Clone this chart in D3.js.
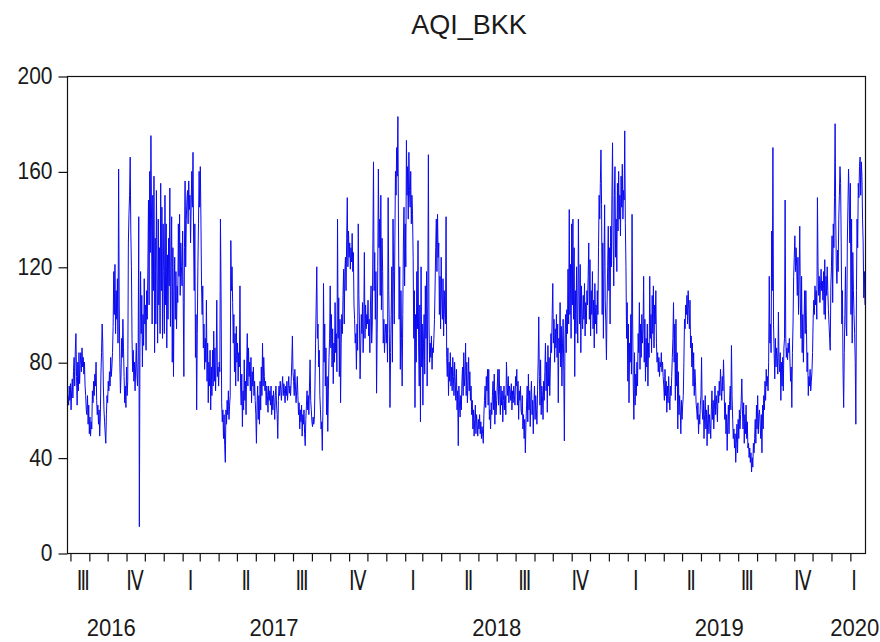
<!DOCTYPE html>
<html>
<head>
<meta charset="utf-8">
<script src="https://cdn.jsdelivr.net/npm/d3@7"></script>
<style>
  body { margin: 0; background: #ffffff; }
  svg { display: block; }
  text { font-family: "Liberation Sans", Arial, sans-serif; fill: #1a1a1a; }
</style>
</head>
<body>
<svg id="chart" width="880" height="642"></svg>
<script>
// Daily Bangkok AQI, first reading 28 Jul 2016
const startDate = "2016-07-28";
const seriesName = "AQI_BKK";

const aqi2016 = [
  66, 62, 70, 64, 71, 60, 68, 73, 65, 76,
  82, 70, 85, 92, 74, 62, 80, 68, 84, 71,
  79, 84, 76, 86, 78, 82, 75, 80, 70, 66,
  60, 58, 66, 54, 62, 50, 57, 49, 55, 52,
  68, 63, 72, 66, 75, 70, 80, 64, 58, 62,
  54, 60, 49, 57, 75, 84, 96, 88, 70, 60,
  55, 50, 46, 58, 66, 63, 72, 68, 76, 70,
  82, 74, 78, 84, 95, 118, 100, 121, 92, 110,
  98, 115, 88, 161, 104, 80, 67, 75, 90, 82,
  98, 86, 74, 63, 70, 61, 78, 66, 72, 130,
  142, 150, 166, 135, 120, 90, 76, 85, 72, 80,
  68, 78, 88, 75, 70, 82, 141, 11, 86, 118,
  92, 108, 78, 100, 87, 115, 96, 104, 85, 110,
  98, 120, 148, 104, 160, 126, 175, 140, 96, 150,
  110, 158, 84, 132, 96, 152, 118, 88, 140, 104,
  128, 92, 155, 110, 145, 90, 138
];

const aqi2017 = [
  118, 92, 150, 104, 138, 86, 125, 98, 132, 112,
  153, 95, 120, 141, 80, 128, 74, 110, 124, 98,
  118, 94, 112, 105, 138, 116, 142, 108, 130, 120,
  112, 135, 105, 74, 128, 156, 120, 140, 148, 152,
  138, 156, 144, 150, 130, 146, 160, 145, 168, 130,
  110, 138, 82, 100, 60, 92, 120, 138, 160, 145,
  162, 140, 112, 100, 112, 86, 96, 77, 90, 80,
  106, 72, 88, 63, 80, 70, 85, 60, 78, 66,
  85, 70, 93, 72, 86, 68, 80, 106, 74, 78,
  70, 80, 76, 140, 110, 63, 55, 60, 48, 58,
  45, 38, 60, 54, 64, 58, 68, 56, 62, 66,
  131, 110, 120, 105, 88, 100, 76, 92, 70, 95,
  80, 88, 72, 84, 78, 112, 70, 62, 75, 53,
  68, 60, 81, 64, 72, 58, 78, 92, 70, 86,
  74, 80, 68, 82, 63, 76, 70, 78, 66, 72,
  64, 58, 46, 62, 70, 56, 66, 54, 72, 60,
  78, 66, 88, 70, 82, 74, 68, 72, 62, 70,
  66, 59, 70, 64, 68, 62, 70, 58, 66, 60,
  68, 63, 56, 66, 70, 62, 58, 48, 64, 70,
  66, 72, 68, 64, 70, 74, 66, 71, 68, 63,
  70, 66, 72, 64, 69, 74, 67, 70, 66, 72,
  80, 91, 76, 72, 66, 77, 70, 63, 68, 74,
  66, 58, 63, 52, 60, 55, 62, 49, 58, 54,
  60, 50, 45, 56, 62, 68, 60, 66, 58, 70,
  81, 64, 60, 55, 53, 57, 54, 56, 70, 88,
  104, 120, 90, 96, 78, 85, 66, 60, 52, 55,
  43, 60, 113, 80, 96, 70, 86, 58, 74, 51,
  68, 82, 90, 112, 86, 100, 78, 94, 71, 88,
  80, 105, 84, 92, 76, 140, 90, 107, 74, 98,
  63, 88, 100, 92, 108, 119, 96, 118, 124, 110,
  132, 149, 120, 135, 124, 130, 119, 128, 122, 134,
  118, 126, 104, 98, 88, 92, 77, 96, 85, 138,
  108, 96, 73, 86, 100, 92, 105, 84, 96, 126,
  90, 104, 94, 100, 96, 106, 91, 98, 84, 104,
  112, 88, 96, 130, 164, 110, 126, 98, 118, 67,
  92, 120, 161, 128, 140, 108, 150, 102, 132, 118,
  88, 98, 84, 92, 96
];

const aqi2018 = [
  88, 96, 80, 149, 110, 92, 61, 84, 100, 120,
  80, 140, 118, 96, 130, 160, 150, 170, 158, 183,
  135, 98, 120, 77, 110, 90, 70, 100, 130, 145,
  112, 138, 120, 173, 150, 162, 140, 168, 152, 145,
  160, 138, 150, 142, 124, 90, 110, 61, 100, 80,
  118, 94, 131, 86, 70, 104, 55, 120, 78, 96,
  62, 88, 100, 75, 112, 90, 118, 70, 104, 167,
  96, 80, 88, 82, 91, 77, 86, 84, 90, 98,
  112, 128, 140, 118, 142, 124, 130, 100, 116, 94,
  124, 106, 98, 115, 91, 110, 100, 96, 141, 82,
  74, 86, 66, 80, 72, 84, 70, 78, 68, 82,
  74, 66, 80, 72, 64, 77, 60, 68, 45, 70,
  62, 57, 66, 60, 72, 78, 66, 84, 70, 74,
  88, 66, 80, 63, 72, 82, 68, 76, 64, 70,
  58, 64, 52, 60, 49, 56, 62, 50, 58, 54,
  49, 56, 52, 58, 50, 55, 48, 53, 50, 46,
  58, 64, 70, 61, 74, 68, 77, 62, 77, 56,
  60, 52, 63, 58, 66, 72, 60, 75, 54, 68,
  58, 64, 70, 77, 62, 77, 66, 58, 70, 62,
  68, 55, 64, 70, 60, 66, 58, 80, 71, 66,
  74, 63, 70, 68, 64, 71, 60, 68, 63, 70,
  66, 62, 74, 70, 77, 62, 72, 56, 68, 64,
  70, 60, 58, 66, 52, 58, 48, 56, 42, 54,
  62, 70, 55, 75, 60, 68, 53, 66, 72, 58,
  64, 50, 62, 70, 56, 66, 60, 54, 68, 80,
  99, 74, 62, 81, 58, 70, 66, 56, 72, 64,
  76, 88, 68, 80, 59, 87, 70, 82, 66, 78,
  92, 84, 100, 113, 88, 98, 80, 94, 86, 100,
  82, 96, 63, 90, 84, 105, 78, 95, 70, 88,
  98, 76, 47, 90, 100, 84, 102, 92, 119, 96,
  144, 100, 121, 90, 138, 104, 140, 98, 128, 74,
  110, 92, 120, 100, 88, 140, 110, 96, 121, 84,
  112, 100, 94, 108, 98, 113, 91, 105, 96, 110,
  104, 116, 130, 98, 123, 91, 110, 100, 118, 94,
  106, 86, 113, 96, 104, 92, 110, 100, 128, 150,
  140, 155, 169, 146, 100, 130, 90, 120, 146, 106,
  96, 81, 104, 120, 137
];

const aqi2019 = [
  110, 128, 96, 137, 120, 150, 172, 130, 112, 150,
  162, 124, 140, 118, 155, 135, 160, 140, 150, 133,
  158, 145, 163, 140, 152, 148, 177, 138, 120, 90,
  105, 72, 96, 63, 88, 80, 100, 75, 142, 96,
  70, 56, 84, 62, 75, 66, 80, 70, 92, 84,
  105, 77, 96, 82, 100, 88, 94, 116, 80, 98,
  72, 90, 78, 96, 70, 88, 82, 116, 90, 100,
  84, 108, 92, 112, 86, 104, 96, 110, 88, 80,
  84, 76, 82, 74, 80, 78, 84, 76, 80, 74,
  70, 64, 77, 66, 72, 59, 70, 63, 74, 66,
  60, 70, 66, 74, 82, 90, 105, 80, 96, 64,
  98, 70, 84, 52, 76, 58, 66, 60, 50, 64,
  56, 62, 66, 80, 98, 94, 104, 100, 108, 96,
  110, 102, 94, 106, 86, 91, 78, 88, 70, 84,
  66, 77, 72, 63, 60, 56, 63, 50, 58, 54,
  62, 66, 82, 60, 56, 64, 48, 58, 66, 52,
  60, 45, 56, 62, 50, 58, 54, 48, 60, 68,
  56, 64, 52, 60, 70, 58, 66, 62, 55, 68,
  63, 72, 66, 77, 70, 64, 74, 68, 81, 70,
  56, 63, 50, 58, 43, 55, 62, 50, 64, 70,
  60, 87, 66, 56, 48, 52, 44, 50, 38, 46,
  54, 42, 56, 48, 60, 52, 58, 64, 73, 60,
  52, 63, 46, 58, 50, 62, 48, 55, 44, 46,
  40, 44, 38, 42, 34, 40, 36, 46, 42, 48,
  56, 46, 62, 52, 66, 50, 58, 60, 54, 48,
  58, 42, 62, 52, 66, 60, 72, 64, 77, 70,
  74, 68, 80, 116, 88, 96, 84, 135, 110, 170,
  96, 84, 73, 90, 78, 86, 82, 75, 101, 80,
  76, 84, 64, 80, 70, 82, 68, 86, 90, 148,
  91, 82, 86, 81, 88, 84, 90, 80, 72, 78,
  61, 84, 96, 116, 124, 133, 118, 128, 120, 108,
  124, 100, 116, 137, 104, 90, 116, 84, 100, 80,
  96, 110, 92, 110, 94, 76, 84, 66, 74, 70,
  77, 68, 72, 76, 84, 98, 106, 100, 112, 104,
  110, 98, 149, 120, 108, 116, 105, 112, 119, 110,
  114, 106, 118, 100, 123, 98, 116, 108, 120, 110,
  102, 96, 90, 85, 112
];

const aqi2020 = [
  120, 133, 105, 138, 128, 149, 180, 140, 120, 113,
  127, 118, 140, 150, 162, 155, 130, 96, 110, 76,
  61, 84, 100, 120, 96, 91, 130, 145, 161, 150,
  130, 155, 100, 140, 88, 126, 110, 100, 92, 80,
  54, 110, 140, 128, 155, 149, 162, 166, 150, 164,
  158, 140, 130, 107, 118, 104
];

// Axis labelling
const yTickValues = [0, 40, 80, 120, 160, 200];
const quarterLabels = [
  ["2016-08-22", "Ⅲ"], ["2016-11-15", "Ⅳ"],
  ["2017-02-14", "Ⅰ"], ["2017-05-16", "Ⅱ"], ["2017-08-16", "Ⅲ"], ["2017-11-15", "Ⅳ"],
  ["2018-02-14", "Ⅰ"], ["2018-05-16", "Ⅱ"], ["2018-08-16", "Ⅲ"], ["2018-11-15", "Ⅳ"],
  ["2019-02-14", "Ⅰ"], ["2019-05-16", "Ⅱ"], ["2019-08-16", "Ⅲ"], ["2019-11-15", "Ⅳ"],
  ["2020-02-07", "Ⅰ"]
];
const yearLabels = [
  ["2016-10-07", "2016"], ["2017-07-01", "2017"], ["2018-07-01", "2018"],
  ["2019-07-01", "2019"], ["2020-02-08", "2020"]
];

const parse = d3.utcParse("%Y-%m-%d");
const values = [].concat(aqi2016, aqi2017, aqi2018, aqi2019, aqi2020);
const t0 = parse(startDate);
const data = values.map((v, i) => ({ date: d3.utcDay.offset(t0, i), value: v }));

const plot = { left: 68, right: 865, top: 76, bottom: 553 };

const x = d3.scaleUtc()
  .domain([data[0].date, data[data.length - 1].date])
  .range([plot.left, plot.right]);
const y = d3.scaleLinear().domain([0, 200]).range([plot.bottom, plot.top]);

const svg = d3.select("#chart");

// Title
svg.append("text")
  .attr("transform", "translate(469,34) scale(1.04,1.05)")
  .attr("text-anchor", "middle")
  .style("font-size", "26px")
  .text(seriesName);

// Series line
const line = d3.line().x(d => x(d.date)).y(d => y(d.value));
svg.append("path")
  .datum(data)
  .attr("fill", "none")
  .attr("stroke", "#0a0af0")
  .attr("stroke-width", 1)
  .attr("d", line);

// Frame
svg.append("rect")
  .attr("x", plot.left - 0.5).attr("y", plot.top + 0.5)
  .attr("width", plot.right - plot.left + 1)
  .attr("height", plot.bottom - plot.top)
  .attr("fill", "none")
  .attr("stroke", "#111")
  .attr("stroke-width", 1.2);

// Y axis
const yAxis = svg.append("g")
  .attr("transform", `translate(${plot.left - 0.5},0.5)`)
  .call(d3.axisLeft(y).tickValues(yTickValues).tickSize(9).tickPadding(6));
yAxis.select(".domain").remove();
yAxis.selectAll(".tick line").attr("stroke", "#111").attr("stroke-width", 1.2);
yAxis.selectAll(".tick text")
  .style("font-family", "'Liberation Sans', Arial, sans-serif")
  .style("font-size", "21px")
  .attr("fill", "#1a1a1a")
  .attr("dy", null)
  .attr("transform", "translate(0,7) scale(1,1.18)");

// X axis: monthly tick marks
const xAxis = svg.append("g")
  .attr("transform", `translate(0,${plot.bottom + 0.5})`)
  .call(d3.axisBottom(x).ticks(d3.utcMonth.every(1)).tickSize(8).tickFormat(""));
xAxis.select(".domain").remove();
xAxis.selectAll(".tick line").attr("stroke", "#111").attr("stroke-width", 1.2);

// Quarter and year labels
svg.append("g").selectAll("text")
  .data(quarterLabels)
  .join("text")
  .attr("transform", d => `translate(${x(parse(d[0]))},590) scale(0.95,1.3)`)
  .attr("text-anchor", "middle")
  .style("font-family", "'DejaVu Sans', sans-serif")
  .style("font-size", "20px")
  .text(d => d[1]);

svg.append("g").selectAll("text")
  .data(yearLabels)
  .join("text")
  .attr("transform", d => `translate(${x(parse(d[0]))},636) scale(1.05,1.18)`)
  .attr("text-anchor", "middle")
  .style("font-size", "21px")
  .text(d => d[1]);
</script>
</body>
</html>
